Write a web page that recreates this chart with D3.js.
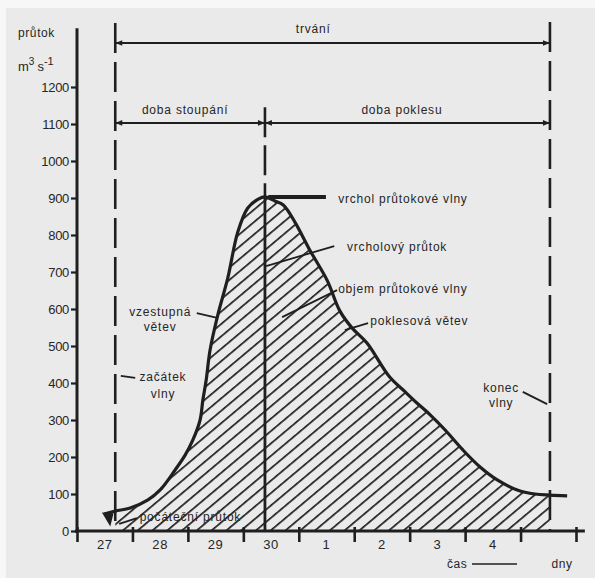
<!DOCTYPE html>
<html>
<head>
<meta charset="utf-8">
<script src="https://cdn.jsdelivr.net/npm/d3@7"></script>
<style>
  body { margin: 0; background: #f7f7f7; }
  text { font-family: "Liberation Sans", Arial, sans-serif; fill: #262626; }
</style>
</head>
<body>
<div id="chart-area"></div>
<script>
// hydrograph of a flood wave (průtoková vlna)

const W = 595, H = 578

// data: time in days since start of day 27, discharge in m3/s
const dayLabels = ["27", "28", "29", "30", "1", "2", "3", "4"]
const yTicks = [0, 100, 200, 300, 400, 500, 600, 700, 800, 900, 1000, 1100, 1200]
const times = [0.49, 0.69, 0.96, 1.28, 1.50, 1.77, 1.95, 2.09, 2.22, 2.27, 2.33, 2.40, 2.54, 2.72, 2.90, 3.08, 3.27, 3.39,
  3.57, 3.72, 3.93, 4.20, 4.51, 4.74, 4.96, 5.23, 5.64, 5.92, 6.13, 6.37, 6.64, 6.96, 7.27, 7.58, 7.94, 8.26, 8.53, 8.84]
const flows = [46, 54, 62, 84, 111, 165, 205, 246, 300, 354, 408, 489, 584, 684, 808, 873, 897, 903,
  892, 881, 835, 759, 678, 595, 549, 508, 416, 376, 346, 314, 273, 219, 173, 138, 111, 100, 97, 95]

const tStart = 0.69, tPeak = 3.39, tEnd = 8.53

const x = d3.scaleLinear().domain([0, 9]).range([77, 576])
const y = d3.scaleLinear().domain([0, 1200]).range([531, 87])

const svg = d3.select("#chart-area").append("svg")
  .attr("width", W)
  .attr("height", H)

svg.append("rect")
  .attr("x", 6).attr("y", 8)
  .attr("width", W - 6).attr("height", H - 8)
  .attr("fill", "#eaeaea")

const ink = "#1f1f1f"

// hatch pattern
const defs = svg.append("defs")
defs.append("pattern")
  .attr("id", "hatch")
  .attr("patternUnits", "userSpaceOnUse")
  .attr("width", 9.5).attr("height", 9.5)
  .attr("patternTransform", "rotate(-40)")
  .append("line")
    .attr("x1", 0).attr("y1", 0)
    .attr("x2", 9.5).attr("y2", 0)
    .attr("stroke", ink)
    .attr("stroke-width", 3.4)

defs.append("clipPath").attr("id", "wave-clip")
  .append("rect")
    .attr("x", x(tStart)).attr("y", 0)
    .attr("width", x(tEnd) - x(tStart)).attr("height", y(0))

// arrow markers
defs.append("marker")
  .attr("id", "arrow")
  .attr("viewBox", "0 0 10 10")
  .attr("refX", 10).attr("refY", 5)
  .attr("markerWidth", 9).attr("markerHeight", 7)
  .attr("markerUnits", "userSpaceOnUse")
  .attr("orient", "auto-start-reverse")
  .append("path").attr("d", "M0,1 L10,5 L0,9 Z").attr("fill", ink)

const data = times.map((t, i) => ({ t: t, q: flows[i] }))

// area under the wave
const area = d3.area()
  .x(d => x(d.t))
  .y0(y(0))
  .y1(d => y(d.q))
  .curve(d3.curveCatmullRom.alpha(0.5))

svg.append("path")
  .datum(data)
  .attr("clip-path", "url(#wave-clip)")
  .attr("fill", "url(#hatch)")
  .attr("d", area)

const line = d3.line()
  .x(d => x(d.t))
  .y(d => y(d.q))
  .curve(d3.curveCatmullRom.alpha(0.5))

svg.append("path")
  .datum(data)
  .attr("fill", "none")
  .attr("stroke", ink)
  .attr("stroke-width", 3.2)
  .attr("stroke-linejoin", "round")
  .attr("d", line)

// small wedge at the start of the wave
svg.append("path")
  .attr("d", `M${x(0.45)},${y(50)} L${x(0.66)},${y(48)} L${x(0.6)},${y(12)} Z`)
  .attr("fill", ink)

// vertical dashed lines
const vlines = [
  { t: tStart, top: 1373 },
  { t: tEnd, top: 1376 }
]
vlines.forEach(v => {
  svg.append("line")
    .attr("x1", x(v.t)).attr("x2", x(v.t))
    .attr("y1", y(v.top)).attr("y2", y(0))
    .attr("stroke", ink)
    .attr("stroke-width", 2.6)
    .attr("stroke-dasharray", "30,9")
})
// peak line: dashed above, solid below
svg.append("line")
  .attr("x1", x(tPeak)).attr("x2", x(tPeak))
  .attr("y1", y(1145)).attr("y2", y(903))
  .attr("stroke", ink).attr("stroke-width", 2.6)
  .attr("stroke-dasharray", "30,8")
svg.append("line")
  .attr("x1", x(tPeak)).attr("x2", x(tPeak))
  .attr("y1", y(903)).attr("y2", y(0))
  .attr("stroke", ink).attr("stroke-width", 2.8)

// duration arrows
function spanArrow(t0, t1, q) {
  svg.append("line")
    .attr("x1", x(t0)).attr("x2", x(t1))
    .attr("y1", y(q)).attr("y2", y(q))
    .attr("stroke", ink)
    .attr("stroke-width", 2)
    .attr("marker-start", "url(#arrow)")
    .attr("marker-end", "url(#arrow)")
}
spanArrow(tStart, tEnd, 1319)
spanArrow(tStart, tPeak, 1103)
spanArrow(tPeak, tEnd, 1103)

function label(txt, t, q, anchor) {
  return svg.append("text")
    .attr("x", x(t)).attr("y", y(q))
    .attr("text-anchor", anchor || "start")
    .attr("font-size", "12px")
    .attr("letter-spacing", "0.8px")
    .text(txt)
}
label("trvání", 4.26, 1346, "middle")
label("doba stoupání", 1.95, 1127, "middle")
label("doba poklesu", 5.86, 1127, "middle")

// axes
const yAxis = svg.append("g")
  .attr("transform", `translate(${x(0)},0)`)
  .call(d3.axisLeft(y).tickValues(yTicks).tickFormat(d3.format("d")).tickSize(6).tickPadding(2))
yAxis.select(".domain").remove()
yAxis.selectAll(".tick line").attr("stroke", ink).attr("stroke-width", 2.2)
yAxis.selectAll(".tick text")
  .attr("font-size", "13px")
  .attr("font-family", "Liberation Sans, Arial, sans-serif")
  .attr("fill", "#262626")
  .attr("letter-spacing", "-0.3px")

svg.append("line")
  .attr("x1", x(0)).attr("x2", x(0))
  .attr("y1", y(1359)).attr("y2", y(0) + 2)
  .attr("stroke", ink).attr("stroke-width", 3)

const xAxis = svg.append("g")
  .attr("transform", `translate(0,${y(0)})`)
  .call(d3.axisBottom(x).tickValues(d3.range(0, 10)).tickFormat("").tickSize(11))
xAxis.select(".domain").remove()
xAxis.selectAll(".tick line")
  .attr("y1", -4)
  .attr("stroke", ink).attr("stroke-width", 2.6)

svg.append("line")
  .attr("x1", x(0) - 2).attr("x2", x(9.16))
  .attr("y1", y(0)).attr("y2", y(0))
  .attr("stroke", ink).attr("stroke-width", 3)

svg.append("g").selectAll("text")
  .data(dayLabels)
  .join("text")
    .attr("x", (d, i) => x(i + 0.5))
    .attr("y", y(0) + 18)
    .attr("text-anchor", "middle")
    .attr("font-size", "13px")
    .attr("letter-spacing", "0.6px")
    .text(d => d)

// axis titles
svg.append("text")
  .attr("x", 18).attr("y", 37)
  .attr("font-size", "12px")
  .attr("letter-spacing", "0.6px")
  .text("průtok")
const unit = svg.append("text")
  .attr("x", 18).attr("y", 71)
  .attr("font-size", "13px")
unit.append("tspan").text("m")
unit.append("tspan").attr("dy", -6).attr("font-size", "10px").text("3")
unit.append("tspan").attr("dy", 6).attr("dx", 3).text("s")
unit.append("tspan").attr("dy", -6).attr("font-size", "11px").text("-1")

svg.append("text")
  .attr("x", 447).attr("y", y(0) + 37)
  .attr("font-size", "12px")
  .attr("letter-spacing", "0.6px")
  .text("čas")
svg.append("line")
  .attr("x1", 472).attr("x2", 517)
  .attr("y1", y(0) + 33).attr("y2", y(0) + 33)
  .attr("stroke", ink).attr("stroke-width", 1.6)
svg.append("text")
  .attr("x", 562).attr("y", y(0) + 37)
  .attr("text-anchor", "middle")
  .attr("font-size", "12px")
  .attr("letter-spacing", "0.6px")
  .text("dny")

// annotations with leader lines (data coordinates)
function leader(t0, q0, t1, q1, w) {
  svg.append("line")
    .attr("x1", x(t0)).attr("y1", y(q0))
    .attr("x2", x(t1)).attr("y2", y(q1))
    .attr("stroke", ink)
    .attr("stroke-width", w || 1.8)
}

leader(3.45, 903, 4.49, 903, 4)
label("vrchol průtokové vlny", 4.71, 886)

leader(3.41, 716, 4.64, 770)
label("vrcholový průtok", 4.87, 757)

leader(3.70, 578, 4.69, 651)
label("objem průtokové vlny", 4.71, 643)

leader(4.83, 543, 5.25, 562)
label("poklesová větev", 5.29, 557)

leader(2.16, 589, 2.53, 576)
label("vzestupná", 1.50, 581, "middle")
label("větev", 1.50, 541, "middle")

leader(0.79, 419, 1.05, 414)
label("začátek", 1.55, 405, "middle")
label("vlny", 1.55, 359, "middle")

leader(0.76, 19, 1.08, 35)
label("počáteční průtok", 1.13, 27)

leader(8.04, 376, 8.48, 343)
label("konec", 7.65, 376, "middle")
label("vlny", 7.65, 335, "middle")
</script>
</body>
</html>
